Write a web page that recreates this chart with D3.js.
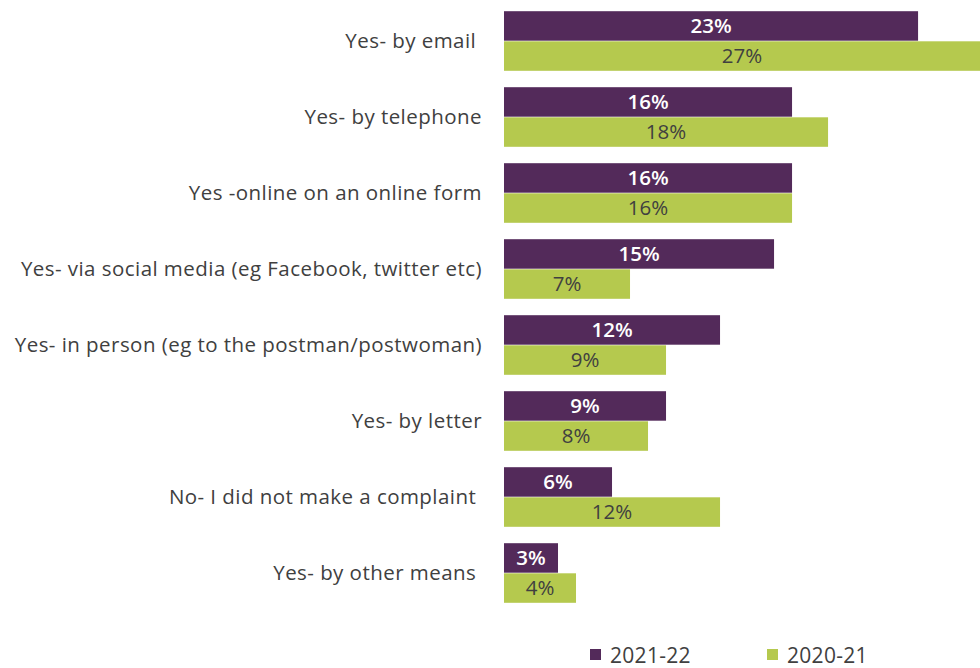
<!DOCTYPE html>
<html>
<head>
<meta charset="utf-8">
<script src="https://cdn.jsdelivr.net/npm/d3@7"></script>
<style>
  html, body { margin: 0; padding: 0; background: #fff; }
  svg { display: block; font-family: "Open Sans", Lato, sans-serif; }
</style>
</head>
<body>
<svg id="chart" width="980" height="668"></svg>
<script>
// Complaint channels, share of respondents (%)
const categories = [
  "Yes- by email ",
  "Yes- by telephone",
  "Yes -online on an online form",
  "Yes- via social media (eg Facebook, twitter etc)",
  "Yes- in person (eg to the postman/postwoman)",
  "Yes- by letter",
  "No- I did not make a complaint ",
  "Yes- by other means "
];
const seriesNames = ["2021-22", "2020-21"];
const values2021_22 = [23, 16, 16, 15, 12, 9, 6, 3];
const values2020_21 = [27, 18, 16, 7, 9, 8, 12, 4];
const colors = ["#532A5A", "#B5C94E"];

const svg = d3.select("#chart");
const plotLeft = 504, plotRight = 980;

const x = d3.scaleLinear().domain([0, 26.44]).range([plotLeft, plotRight]);
const y = d3.scaleBand().domain(categories).range([3, 611]).paddingInner(0.2).paddingOuter(0.1);
const ySub = d3.scaleBand().domain(seriesNames).range([0, y.bandwidth()]).padding(0.02);

svg.append("defs").append("clipPath").attr("id", "plotClip")
  .append("rect").attr("x", plotLeft).attr("y", 0).attr("width", plotRight - plotLeft).attr("height", 668);

const series = [values2021_22, values2020_21];
const g = svg.append("g");

series.forEach((vals, si) => {
  const name = seriesNames[si];
  g.append("g").attr("clip-path", "url(#plotClip)")
    .selectAll("rect").data(vals).join("rect")
    .attr("x", x(0))
    .attr("y", (d, i) => y(categories[i]) + ySub(name))
    .attr("width", d => x(d) - x(0))
    .attr("height", ySub.bandwidth())
    .attr("fill", colors[si]);

  // value labels centred on the visible part of each bar
  g.append("g").selectAll("text").data(vals).join("text")
    .attr("x", d => (x(0) + Math.min(x(d), plotRight)) / 2)
    .attr("y", (d, i) => y(categories[i]) + ySub(name) + ySub.bandwidth() / 2)
    .attr("dy", "0.36em")
    .attr("text-anchor", "middle")
    .attr("font-size", 20.5)
    .attr("font-weight", si === 0 ? "600" : "normal")
    .attr("fill", si === 0 ? "#ffffff" : "#404040")
    .text(d => d + "%");
});

// Category labels
g.append("g").selectAll("text").data(categories).join("text")
  .attr("x", 482)
  .attr("y", d => y(d) + y.bandwidth() / 2)
  .attr("dy", "0.36em")
  .attr("text-anchor", "end")
  .attr("font-size", 20.5)
  .attr("letter-spacing", 0.45)
  .attr("fill", "#404040")
  .style("white-space", "pre")
  .text(d => d);

// Legend
const legendX = [590, 767];
const legend = svg.append("g");
seriesNames.forEach((n, i) => {
  legend.append("rect").attr("x", legendX[i]).attr("y", 649).attr("width", 11).attr("height", 11).attr("fill", colors[i]);
  legend.append("text").attr("x", legendX[i] + 20).attr("y", 655).attr("dy", "0.36em")
    .attr("font-size", 21).attr("letter-spacing", 0.3).attr("fill", "#404040").text(n);
});
</script>
</body>
</html>
